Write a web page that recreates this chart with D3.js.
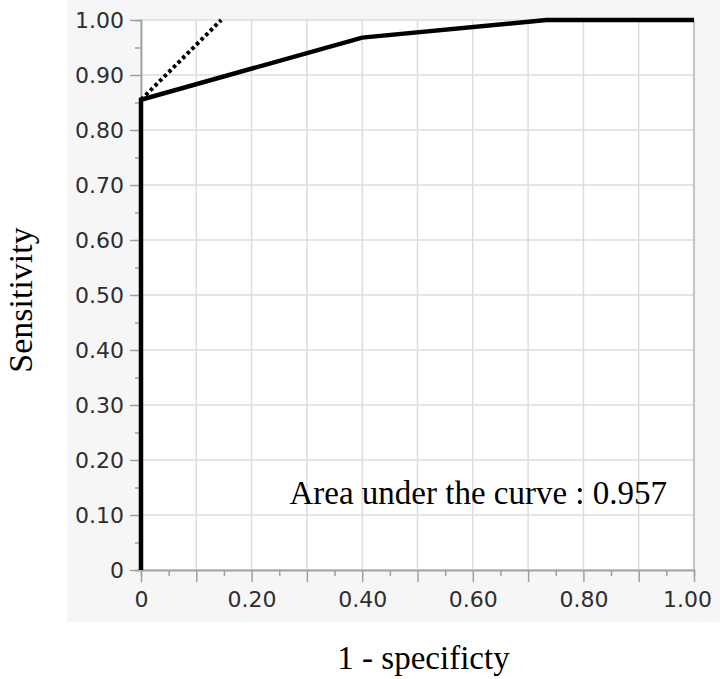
<!DOCTYPE html>
<html>
<head>
<meta charset="utf-8">
<script src="https://cdn.jsdelivr.net/npm/d3@7"></script>
<style>
  html, body { margin: 0; padding: 0; background: #ffffff; }
  svg { display: block; }
</style>
</head>
<body>
<svg id="chart" width="720" height="679"></svg>
<script>
// ---- data ----
const rocFpr = [0, 0, 0.4, 0.733, 1.0];
const rocTpr = [0, 0.855, 0.968, 1.0, 1.0];
const tangentFpr = [0, 0.145];
const tangentTpr = [0.855, 1.0];
const yTickValues = [0, 0.1, 0.2, 0.3, 0.4, 0.5, 0.6, 0.7, 0.8, 0.9, 1.0];
const xLabelValues = [0, 0.2, 0.4, 0.6, 0.8, 1.0];
const xTickValues = [0, 0.1, 0.2, 0.3, 0.4, 0.5, 0.6, 0.7, 0.8, 0.9, 1.0];
const minorTickValues = [0.05, 0.15, 0.25, 0.35, 0.45, 0.55, 0.65, 0.75, 0.85, 0.95];
const aucText = "Area under the curve : 0.957";
const xTitle = "1 - specificty";
const yTitle = "Sensitivity";

// ---- layout ----
const svg = d3.select("#chart");
const plot = { left: 141, right: 694, top: 20, bottom: 570 };
const x = d3.scaleLinear().domain([0, 1]).range([plot.left, plot.right]);
const y = d3.scaleLinear().domain([0, 1]).range([plot.bottom, plot.top]);

const fmt = v => (Math.abs(v) < 1e-9 ? "0" : d3.format(".2f")(v));
const tickFont = "'DejaVu Sans', Verdana, sans-serif";
const serif = "'Liberation Serif', 'Times New Roman', serif";

// panel background
svg.append("rect")
  .attr("x", 67).attr("y", 0).attr("width", 653).attr("height", 622)
  .attr("fill", "#f6f6f6");

// plot area
svg.append("rect")
  .attr("x", plot.left).attr("y", plot.top)
  .attr("width", plot.right - plot.left).attr("height", plot.bottom - plot.top)
  .attr("fill", "#ffffff");

// gridlines
const grid = svg.append("g").attr("stroke", "#dcdcdc").attr("stroke-width", 1.5);
grid.selectAll("line.v").data(xTickValues).join("line")
  .attr("x1", d => x(d)).attr("x2", d => x(d))
  .attr("y1", plot.top).attr("y2", plot.bottom);
grid.selectAll("line.h").data(yTickValues).join("line")
  .attr("x1", plot.left).attr("x2", plot.right)
  .attr("y1", d => y(d)).attr("y2", d => y(d));

// right border
svg.append("line")
  .attr("x1", plot.right).attr("x2", plot.right)
  .attr("y1", plot.top).attr("y2", plot.bottom)
  .attr("stroke", "#b8b8b8").attr("stroke-width", 1.5);

function styleAxis(g) {
  g.select(".domain").attr("stroke", "#a0a0a0").attr("stroke-width", 1.5);
  g.selectAll(".tick line").attr("stroke", "#a0a0a0").attr("stroke-width", 1.5);
  g.selectAll(".tick text").attr("fill", "#2e2e2e")
    .style("font-family", tickFont).style("font-size", "22px");
}

// y axis minor
svg.append("g").attr("transform", `translate(${plot.left},0)`)
  .call(d3.axisLeft(y).tickValues(minorTickValues).tickSize(6).tickFormat(""))
  .call(styleAxis);
// y axis major
svg.append("g").attr("transform", `translate(${plot.left},0)`)
  .call(d3.axisLeft(y).tickValues(yTickValues).tickSize(11).tickSizeOuter(0).tickPadding(6).tickFormat(fmt))
  .call(styleAxis);

// x axis minor
svg.append("g").attr("transform", `translate(0,${plot.bottom})`)
  .call(d3.axisBottom(x).tickValues(minorTickValues).tickSize(6).tickFormat(""))
  .call(styleAxis);
// x axis major ticks
const xAxisG = svg.append("g").attr("transform", `translate(0,${plot.bottom})`)
  .call(d3.axisBottom(x).tickValues(xTickValues).tickSize(12).tickSizeOuter(0)
    .tickPadding(9).tickFormat(d => xLabelValues.some(v => Math.abs(v - d) < 1e-9) ? fmt(d) : ""))
  .call(styleAxis);
// keep the last label inside the panel
xAxisG.selectAll(".tick text").filter(d => d === 1).attr("dx", -7);

// tangent dotted line
const tangent = tangentFpr.map((d, i) => [d, tangentTpr[i]]);
svg.append("path")
  .datum(tangent)
  .attr("d", d3.line().x(d => x(d[0])).y(d => y(d[1])))
  .attr("fill", "none").attr("stroke", "#000").attr("stroke-width", 4)
  .attr("stroke-dasharray", "3.5,3");

// ROC curve
const roc = rocFpr.map((d, i) => [d, rocTpr[i]]);
svg.append("path")
  .datum(roc)
  .attr("d", d3.line().x(d => x(d[0])).y(d => y(d[1])))
  .attr("fill", "none").attr("stroke", "#000").attr("stroke-width", 4.5)
  .attr("stroke-linejoin", "miter");

// AUC text
svg.append("text")
  .attr("x", 667).attr("y", 504)
  .attr("text-anchor", "end")
  .style("font-family", serif).style("font-size", "33px")
  .attr("fill", "#000")
  .text(aucText);

// axis titles
svg.append("text")
  .attr("x", (plot.left + plot.right) / 2 + 6).attr("y", 669)
  .attr("text-anchor", "middle")
  .style("font-family", serif).style("font-size", "33px")
  .text(xTitle);

svg.append("text")
  .attr("transform", `translate(32,300) rotate(-90)`)
  .attr("text-anchor", "middle")
  .style("font-family", serif).style("font-size", "34px")
  .text(yTitle);
</script>
</body>
</html>
